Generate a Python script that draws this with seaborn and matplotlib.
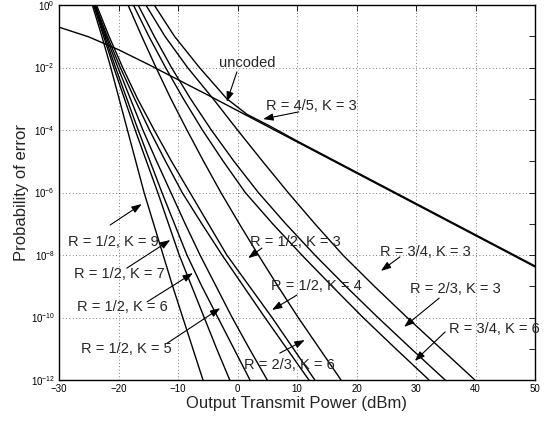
import numpy as np
import pandas as pd
import matplotlib
matplotlib.use("Agg")
import matplotlib.pyplot as plt
import seaborn as sns
from matplotlib.ticker import NullFormatter, FixedLocator

# ---- data (x in dBm, y as log10 of probability of error) ----
uncoded_x = [-30, -25, -20, -15, -10, -5, 0, 10, 20, 30, 40, 50]
uncoded_lp = [-0.71, -1.02, -1.43, -1.90, -2.39, -2.88, -3.38, -4.38, -5.38, -6.38, -7.38, -8.38]

lev = [0, -1, -2, -3, -4, -5, -6, -7, -8, -9, -10, -11, -12]
r12k9_x = [-24.4, -22.8, -21.3, -19.9, -18.5, -17.1, -15.7, -14.1, -12.5, -10.9, -9.2, -7.5, -5.8]
r12k7_x = [-24.2, -22.5, -20.8, -19.0, -17.2, -15.3, -13.4, -11.6, -9.8, -7.7, -5.6, -3.5, -1.3]
r12k6_x = [-24.1, -22.3, -20.5, -18.6, -16.7, -14.7, -12.7, -10.6, -8.5, -6.0, -3.3, -0.6, 2.1]
r12k5_x = [-24.0, -22.1, -20.1, -18.0, -15.9, -13.6, -11.2, -8.8, -6.3, -3.6, -0.9, 2.0, 5.0]
r12k4_x = [-23.9, -21.9, -19.7, -17.3, -14.8, -12.1, -9.3, -6.0, -2.6, 1.0, 4.6, 8.3, 12.0]
r12k3_x = [-23.7, -21.6, -19.3, -16.8, -14.0, -11.1, -8.0, -4.9, -1.8, 2.0, 5.8, 9.4, 13.0]
r23k6_x = [-18.4, -16.1, -13.7, -11.2, -8.5, -5.7, -2.8, 0.3, 3.5, 6.8, 10.2, 13.8, 17.4]
r34k6_x = [-17.5, -14.9, -12.1, -9.1, -5.9, -2.4, 1.3, 5.9, 10.8, 15.9, 21.1, 26.6, 32.2]
r23k3_x = [-16.7, -14.0, -11.1, -7.9, -4.4, -0.6, 3.5, 8.1, 13.0, 18.2, 23.6, 29.2, 34.9]
r34k3_x = [-15.4, -12.2, -8.4, -4.1, 0.0, 4.2, 8.5, 13.0, 17.7, 23.0, 28.5, 34.2, 39.9]
r45k3_x = [-14.0, -10.6, -6.4, -1.8, 1.6, 5.5, 10.0, 20.0, 30.0, 40.0, 50.0]
r45k3_lp = [0, -1, -2, -3, -3.5, -3.88, -4.35, -5.35, -6.35, -7.35, -8.35]

# annotation labels, text anchor (x, log10 p), arrow tail, arrow head
labels = ["uncoded", "R = 4/5, K = 3", "R = 1/2, K = 9", "R = 1/2, K = 7",
          "R = 1/2, K = 6", "R = 1/2, K = 5", "R = 1/2, K = 3", "R = 1/2, K = 4",
          "R = 3/4, K = 3", "R = 2/3, K = 3", "R = 3/4, K = 6", "R = 2/3, K = 6"]
label_x = [1.6, 12.5, -20.8, -19.9, -19.4, -18.6, 9.7, 13.2, 31.5, 36.7, 43.1, 8.7]
label_lp = [-1.86, -3.23, -7.58, -8.61, -9.66, -11.0, -7.58, -8.99, -7.9, -9.09, -10.37, -11.52]
tail_x = [-0.1, 10.3, -21.4, -18.6, -15.2, -11.8, 4.1, 10.0, 27.3, 33.9, 34.9, 7.1]
tail_lp = [-2.14, -3.42, -7.04, -8.42, -9.50, -10.82, -7.78, -9.28, -8.06, -9.38, -10.46, -11.14]
head_x = [-1.8, 4.3, -16.1, -11.3, -7.5, -2.9, 1.8, 5.8, 24.1, 28.0, 29.8, 11.3]
head_lp = [-3.10, -3.65, -6.37, -7.52, -8.58, -9.70, -8.10, -9.76, -8.51, -10.3, -11.39, -10.72]

curves = {
    "uncoded": (uncoded_x, uncoded_lp),
    "r12k9": (r12k9_x, lev), "r12k7": (r12k7_x, lev), "r12k6": (r12k6_x, lev),
    "r12k5": (r12k5_x, lev), "r12k4": (r12k4_x, lev), "r12k3": (r12k3_x, lev),
    "r23k6": (r23k6_x, lev), "r34k6": (r34k6_x, lev), "r23k3": (r23k3_x, lev),
    "r34k3": (r34k3_x, lev), "r45k3": (r45k3_x, r45k3_lp),
}
rows = []
for name, (xs, lps) in curves.items():
    for i, (x, lp) in enumerate(zip(xs, lps)):
        rows.append({"curve": name, "order": i, "x": x, "p": 10.0 ** lp})
df = pd.DataFrame(rows)

sns.set_theme(style="white")
plt.rcParams["font.family"] = ["Liberation Sans", "DejaVu Sans"]
plt.rcParams["mathtext.fontset"] = "custom"
plt.rcParams["mathtext.rm"] = "Liberation Sans"

fig = plt.figure(figsize=(5.44, 4.21), dpi=100)
ax = fig.add_axes([59 / 544, 1 - 380 / 421, 476 / 544, 375 / 421])

sns.lineplot(data=df, x="x", y="p", hue="curve", units="curve", estimator=None,
             sort=False, palette=["black"] * len(curves), legend=False,
             linewidth=1.0, ax=ax)

ax.set_yscale("log")
ax.set_xlim(-30, 50)
ax.set_ylim(1e-12, 1e0)
ax.set_xticks([-30, -20, -10, 0, 10, 20, 30, 40, 50])
ax.set_xticklabels(["\u221230", "\u221220", "\u221210", "0", "10", "20", "30", "40", "50"])
ax.yaxis.set_major_locator(FixedLocator([10.0 ** e for e in range(-12, 1, 2)]))
ax.set_yticklabels([r"$10^{%d}$" % e for e in range(-12, 1, 2)])
ax.yaxis.set_minor_locator(FixedLocator([10.0 ** e for e in range(-11, 0, 2)]))
ax.yaxis.set_minor_formatter(NullFormatter())
ax.tick_params(which="both", direction="in", top=True, right=True, labelsize=7,
               length=4, width=0.6, colors="black", pad=3)
ax.grid(True, which="major", linestyle=(0, (1, 3)), color="#555555", linewidth=0.6)
for s in ax.spines.values():
    s.set_color("black")
    s.set_linewidth(1.0)

ax.set_xlabel("Output Transmit Power (dBm)", fontsize=12, labelpad=1)
ax.set_ylabel("Probability of error", fontsize=12, labelpad=1)

for lab, lx, llp, tx, tlp, hx, hlp in zip(labels, label_x, label_lp, tail_x, tail_lp, head_x, head_lp):
    ax.text(lx, 10.0 ** llp, lab, fontsize=10.5, ha="center", va="center")
    ax.annotate("", xy=(hx, 10.0 ** hlp), xytext=(tx, 10.0 ** tlp),
                arrowprops=dict(arrowstyle="-|>,head_length=0.5,head_width=0.18",
                                color="black", lw=0.8, shrinkA=0, shrinkB=0))

fig.savefig("out.png", dpi=100, facecolor="white")
